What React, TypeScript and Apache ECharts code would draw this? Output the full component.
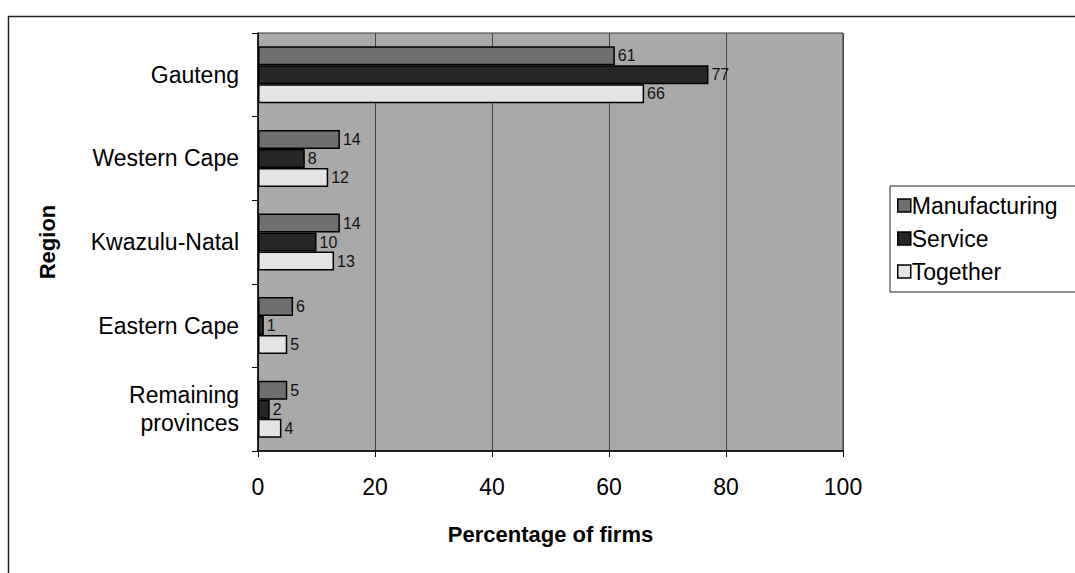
import React, { useEffect, useRef } from "react";
import * as echarts from "echarts";

const regions = ["Gauteng", "Western Cape", "Kwazulu-Natal", "Eastern Cape", "Remaining\nprovinces"];
const manufacturing = [61, 14, 14, 6, 5];
const service = [77, 8, 10, 1, 2];
const together = [66, 12, 13, 5, 4];
const xTicks = [0, 20, 40, 60, 80, 100];

const FONT = "Liberation Sans, Arial, Helvetica, sans-serif";

export default function App() {
  const ref = useRef<HTMLDivElement>(null);

  useEffect(() => {
    if (!ref.current) return;
    const chart = echarts.init(ref.current, null, { renderer: "svg" });

    const labelStyle = {
      show: true,
      position: "right" as const,
      distance: 3,
      color: "#111",
      fontFamily: FONT,
      fontSize: 16,
      formatter: "{c}",
    };

    const barBase = {
      type: "bar" as const,
      barWidth: 19,
      barGap: "0%",
      barCategoryGap: "32%",
      label: labelStyle,
    };

    chart.setOption({
      animation: false,
      textStyle: { fontFamily: FONT },
      graphic: [
        {
          type: "rect",
          shape: { x: 8.5, y: 16.5, width: 1080, height: 600 },
          style: { fill: "none", stroke: "#222", lineWidth: 1.5 },
          silent: true,
        },
      ],
      grid: {
        left: 258,
        top: 33,
        width: 585,
        height: 418,
        show: true,
        backgroundColor: "#a9a9a9",
        borderColor: "#333",
        borderWidth: 1,
      },
      legend: {
        orient: "vertical",
        left: 890,
        top: 186,
        icon: "rect",
        itemWidth: 13,
        itemHeight: 13,
        itemGap: 10,
        padding: [8, 20, 9, 7],
        borderColor: "#222",
        borderWidth: 1,
        backgroundColor: "#fff",
        itemStyle: { borderColor: "#000", borderWidth: 1.5 },
        textStyle: { fontSize: 23, color: "#000", fontFamily: FONT, padding: [0, 0, 0, -4] },
        data: ["Manufacturing", "Service", "Together"],
      },
      xAxis: {
        type: "value",
        min: 0,
        max: 100,
        interval: 20,
        name: "Percentage of firms",
        nameLocation: "middle",
        nameGap: 72,
        nameTextStyle: { fontSize: 22, fontWeight: "bold", color: "#000", fontFamily: FONT },
        axisLine: { show: true, lineStyle: { color: "#000", width: 1.5 } },
        axisTick: { show: true, length: 6, inside: false, lineStyle: { color: "#000" } },
        axisLabel: {
          fontSize: 23,
          color: "#000",
          margin: 24,
          fontFamily: FONT,
          formatter: (v: number) => (xTicks.includes(v) ? String(v) : ""),
        },
        splitLine: { show: true, lineStyle: { color: "#444", width: 1 } },
      },
      yAxis: {
        type: "category",
        inverse: true,
        data: regions,
        name: "Region",
        nameLocation: "middle",
        nameGap: 200,
        nameRotate: 90,
        nameTextStyle: { fontSize: 22, fontWeight: "bold", color: "#000", fontFamily: FONT },
        axisLine: { show: true, lineStyle: { color: "#000", width: 1.5 } },
        axisTick: { show: true, length: 6, inside: false, lineStyle: { color: "#000" } },
        axisLabel: {
          fontSize: 23,
          color: "#000",
          margin: 19,
          lineHeight: 28,
          align: "right",
          fontFamily: FONT,
        },
        splitLine: { show: false },
      },
      series: [
        {
          ...barBase,
          name: "Manufacturing",
          data: manufacturing,
          itemStyle: { color: "#6f6f6f", borderColor: "#000", borderWidth: 1.5 },
        },
        {
          ...barBase,
          name: "Service",
          data: service,
          itemStyle: { color: "#262626", borderColor: "#000", borderWidth: 1.5 },
        },
        {
          ...barBase,
          name: "Together",
          data: together,
          itemStyle: { color: "#e4e4e4", borderColor: "#000", borderWidth: 1.5 },
        },
      ],
    });

    return () => chart.dispose();
  }, []);

  return (
    <div
      ref={ref}
      style={{ position: "absolute", left: 0, top: 0, width: 1075, height: 573, background: "#fff" }}
    />
  );
}
